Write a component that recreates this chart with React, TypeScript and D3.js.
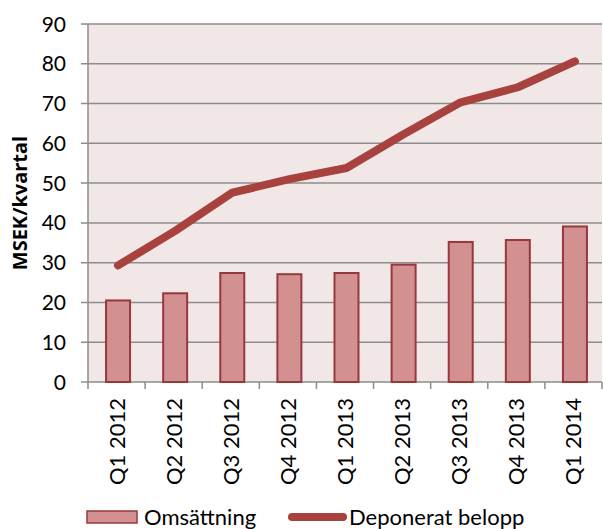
import { useEffect, useRef } from 'react';
import * as d3 from 'd3';

const quarters = ['Q1 2012', 'Q2 2012', 'Q3 2012', 'Q4 2012', 'Q1 2013', 'Q2 2013', 'Q3 2013', 'Q4 2013', 'Q1 2014'];
const omsattning = [20.5, 22.3, 27.4, 27.1, 27.4, 29.5, 35.2, 35.7, 39.1];
const deponerat = [29.3, 38.0, 47.6, 51.0, 53.8, 62.3, 70.3, 74.1, 80.6];
const yTicks = [0, 10, 20, 30, 40, 50, 60, 70, 80, 90];

const FONT = 'Lato, "Open Sans", sans-serif';

export default function App() {
  const ref = useRef<SVGSVGElement>(null);

  useEffect(() => {
    const svgElement = ref.current;
    if (!svgElement) return;
    const svg = d3.select(svgElement);
    svg.selectAll('*').remove();

    const width = 603;
    const height = 529;
    const margin = { top: 24, right: 1, bottom: 147, left: 88 };

    const x = d3
      .scaleBand<string>()
      .domain(quarters)
      .range([margin.left, width - margin.right])
      .paddingInner(0.58)
      .paddingOuter(0.29);
    const y = d3.scaleLinear().domain([0, 90]).range([height - margin.bottom, margin.top]);

    // plot background
    svg
      .append('rect')
      .attr('x', margin.left)
      .attr('y', margin.top)
      .attr('width', width - margin.right - margin.left)
      .attr('height', y(0) - margin.top)
      .attr('fill', '#f2e7e7');

    // grid
    svg
      .append('g')
      .selectAll('line')
      .data(yTicks)
      .join('line')
      .attr('x1', margin.left - 7)
      .attr('x2', width - margin.right)
      .attr('y1', (d) => y(d))
      .attr('y2', (d) => y(d))
      .attr('stroke', '#8c8c8c')
      .attr('stroke-width', 1.5);

    // y axis line
    svg
      .append('line')
      .attr('x1', margin.left)
      .attr('x2', margin.left)
      .attr('y1', margin.top)
      .attr('y2', y(0))
      .attr('stroke', '#8c8c8c')
      .attr('stroke-width', 1.5);

    // y labels
    svg
      .append('g')
      .selectAll('text')
      .data(yTicks)
      .join('text')
      .attr('x', 66)
      .attr('y', (d) => y(d))
      .attr('dy', '0.36em')
      .attr('text-anchor', 'end')
      .attr('font-family', FONT)
      .attr('font-size', 21)
      .attr('fill', '#000')
      .text((d) => d);

    svg
      .append('text')
      .attr('transform', `translate(27,${(margin.top + y(0)) / 2}) rotate(-90)`)
      .attr('text-anchor', 'middle')
      .attr('font-family', '"Open Sans", Lato, sans-serif')
      .attr('font-size', 20)
      .attr('font-weight', 700)
      .text('MSEK/kvartal');

    // x ticks
    const step = x.step();
    const tickXs = d3.range(quarters.length + 1).map((i) => margin.left + i * step);
    svg
      .append('g')
      .selectAll('line')
      .data(tickXs)
      .join('line')
      .attr('x1', (d) => d)
      .attr('x2', (d) => d)
      .attr('y1', y(0))
      .attr('y2', y(0) + 7)
      .attr('stroke', '#8c8c8c')
      .attr('stroke-width', 1.5);

    // bars
    svg
      .append('g')
      .selectAll('rect')
      .data(omsattning)
      .join('rect')
      .attr('x', (_d, i) => (x(quarters[i]) ?? 0) + 1.5)
      .attr('y', (d) => y(d))
      .attr('width', x.bandwidth())
      .attr('height', (d) => y(0) - y(d))
      .attr('fill', '#d39091')
      .attr('stroke', '#98383a')
      .attr('stroke-width', 2);

    // line
    const line = d3
      .line<number>()
      .x((_d, i) => (x(quarters[i]) ?? 0) + x.bandwidth() / 2 + 1.5)
      .y((d) => y(d));
    svg
      .append('path')
      .datum(deponerat)
      .attr('d', line)
      .attr('fill', 'none')
      .attr('stroke', '#a8423f')
      .attr('stroke-width', 8)
      .attr('stroke-linecap', 'round')
      .attr('stroke-linejoin', 'round');

    // x labels
    svg
      .append('g')
      .selectAll('text')
      .data(quarters)
      .join('text')
      .attr('transform', (d) => `translate(${(x(d) ?? 0) + x.bandwidth() / 2 + 8},${y(0) + 16}) rotate(-90)`)
      .attr('text-anchor', 'end')
      .attr('font-family', FONT)
      .attr('font-size', 22)
      .text((d) => d);

    // legend
    const ly = 517;
    svg
      .append('rect')
      .attr('x', 87)
      .attr('y', ly - 6)
      .attr('width', 50)
      .attr('height', 12)
      .attr('fill', '#d39091')
      .attr('stroke', '#98383a')
      .attr('stroke-width', 1.5);
    svg
      .append('text')
      .attr('x', 144)
      .attr('y', ly)
      .attr('dy', '0.36em')
      .attr('font-family', FONT)
      .attr('font-size', 22)
      .text('Omsättning');
    svg
      .append('line')
      .attr('x1', 292)
      .attr('x2', 343)
      .attr('y1', ly)
      .attr('y2', ly)
      .attr('stroke', '#a8423f')
      .attr('stroke-width', 8)
      .attr('stroke-linecap', 'round');
    svg
      .append('text')
      .attr('x', 349)
      .attr('y', ly)
      .attr('dy', '0.36em')
      .attr('font-family', FONT)
      .attr('font-size', 22)
      .text('Deponerat belopp');
  }, []);

  return (
    <svg
      ref={ref}
      width={603}
      height={529}
      style={{ position: 'absolute', left: 0, top: 0, background: '#fff' }}
    />
  );
}
